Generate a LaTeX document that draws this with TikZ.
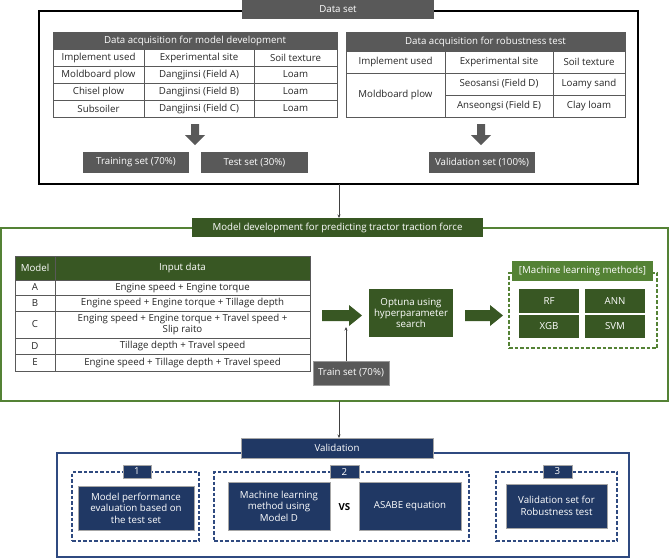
\documentclass[tikz,border=0pt]{standalone}
\usepackage{fontspec}
\setmainfont{Open Sans}
\usetikzlibrary{arrows.meta}
\definecolor{dgray}{HTML}{595959}
\definecolor{dgreen}{HTML}{385723}
\definecolor{lgreen}{HTML}{548235}
\definecolor{navy}{HTML}{203864}
\definecolor{bnavy}{HTML}{2F4A80}
\definecolor{tline}{HTML}{595959}
\definecolor{ttext}{HTML}{262626}
\newcommand\fs{\fontsize{9.7}{11.4}\selectfont}
\newcommand\bx[7][]{\node[base,#1, minimum width={(#5-#3)*1pt}, minimum height={(#6-#4)*1pt}] (#2) at ({(#3+#5)/2},{(#4+#6)/2}) {#7};}
\newcommand\rblock[4]{\fill[#4] (#1,{#3-5.5}) -- ({#2-13},{#3-5.5}) -- ({#2-13},{#3-10.5}) -- (#2,#3) -- ({#2-13},{#3+10.5}) -- ({#2-13},{#3+5.5}) -- (#1,{#3+5.5}) -- cycle;}
\newcommand\dblock[4]{\fill[#4] ({#1-4},#2) -- ({#1-4},{#3-10}) -- ({#1-10},{#3-10}) -- (#1,#3) -- ({#1+10},{#3-10}) -- ({#1+4},{#3-10}) -- ({#1+4},#2) -- cycle;}
\tikzset{
  base/.style={inner sep=0pt, outer sep=0pt, align=center, font=\fs},
  cell/.style={draw=tline, line width=0.6pt, text=ttext},
  graybox/.style={fill=dgray, text=white},
  greenbox/.style={fill=dgreen, text=white},
  navybox/.style={fill=navy, text=white, draw=black!35, line width=0.5pt},
  dashframe/.style={dashed, dash pattern=on 3.5pt off 2pt, line width=1.1pt},
  conn/.style={draw=black!75, line width=0.7pt, -{Stealth[length=3.5pt,width=3pt]}},
}
\begin{document}
\begin{tikzpicture}[x=1pt, y=-1pt]
\useasboundingbox (0,0) rectangle (669,558);
% ---------------- Data set ----------------
\bx[draw=black, line width=1.3pt]{dsframe}{39}{11}{638}{184}{}
\bx[graybox]{dstitle}{242}{0}{434}{19}{Data set}
% left table
\bx[cell,graybox]{lh}{53}{32}{337}{49}{Data acquisition for model development}
\bx[cell]{l11}{53}{49}{144}{66}{Implement used}
\bx[cell]{l12}{144}{49}{254}{66}{Experimental site}
\bx[cell]{l13}{254}{49}{337}{66}{Soil texture}
\bx[cell]{l21}{53}{66}{144}{83}{Moldboard plow}
\bx[cell]{l22}{144}{66}{254}{83}{Dangjinsi (Field A)}
\bx[cell]{l23}{254}{66}{337}{83}{Loam}
\bx[cell]{l31}{53}{83}{144}{100}{Chisel plow}
\bx[cell]{l32}{144}{83}{254}{100}{Dangjinsi (Field B)}
\bx[cell]{l33}{254}{83}{337}{100}{Loam}
\bx[cell]{l41}{53}{100}{144}{117}{Subsoiler}
\bx[cell]{l42}{144}{100}{254}{117}{Dangjinsi (Field C)}
\bx[cell]{l43}{254}{100}{337}{117}{Loam}
% right table
\bx[cell,graybox]{rh}{346}{32}{625}{51}{Data acquisition for robustness test}
\bx[cell]{r11}{346}{51}{445}{73}{Implement used}
\bx[cell]{r12}{445}{51}{553}{73}{Experimental site}
\bx[cell]{r13}{553}{51}{625}{73}{Soil texture}
\bx[cell]{r21}{346}{73}{445}{117}{Moldboard plow}
\bx[cell]{r22}{445}{73}{553}{95}{Seosansi (Field D)}
\bx[cell]{r23}{553}{73}{625}{95}{Loamy sand}
\bx[cell]{r32}{445}{95}{553}{117}{Anseongsi (Field E)}
\bx[cell]{r33}{553}{95}{625}{117}{Clay loam}
\dblock{195}{124}{145}{dgray}
\dblock{481}{124}{145}{dgray}
\bx[graybox]{train}{83}{152}{189}{173}{Training set (70\%)}
\bx[graybox]{test}{201}{152}{308}{173}{Test set (30\%)}
\bx[graybox]{valset}{429}{152}{535}{173}{Validation set (100\%)}
% ---------------- Model development ----------------
\bx[draw=lgreen, line width=1.5pt]{gframe}{1}{228}{668}{401}{}
\bx[greenbox]{mtitle}{192}{218}{483}{237}{Model development for predicting tractor traction force}
\coordinate (cx) at (339,0);
\draw[conn] (cx |- dsframe.south) -- (cx |- mtitle.north);
% model table
\bx[cell,greenbox]{mh1}{15}{256}{55}{280}{Model}
\bx[cell,greenbox]{mh2}{55}{256}{310}{280}{Input data}
\bx[cell]{ma1}{15}{280}{55}{295}{A}
\bx[cell]{ma2}{55}{280}{310}{295}{Engine speed + Engine torque}
\bx[cell]{mb1}{15}{295}{55}{311}{B}
\bx[cell]{mb2}{55}{295}{310}{311}{Engine speed + Engine torque + Tillage depth}
\bx[cell]{mc1}{15}{311}{55}{338}{C}
\bx[cell]{mc2}{55}{311}{310}{338}{Enging speed + Engine torque + Travel speed +\\Slip raito}
\bx[cell]{md1}{15}{338}{55}{354}{D}
\bx[cell]{md2}{55}{338}{310}{354}{Tillage depth + Travel speed}
\bx[cell]{me1}{15}{354}{55}{371}{E}
\bx[cell]{me2}{55}{354}{310}{371}{Engine speed + Tillage depth + Travel speed}
\rblock{322}{362}{315.5}{dgreen}
\bx[greenbox]{optuna}{369}{289}{453}{337}{Optuna using\\hyperparameter\\search}
\rblock{465}{503}{315.5}{dgreen}
\bx[draw=lgreen, dashframe]{mlframe}{509}{273}{657}{348}{}
\bx[fill=lgreen, text=white]{mltitle}{512}{261}{653}{281}{[Machine learning methods]}
\bx[greenbox]{rf}{519}{289}{579}{313}{RF}
\bx[greenbox]{ann}{585}{289}{645}{313}{ANN}
\bx[greenbox]{xgb}{519}{315}{579}{338}{XGB}
\bx[greenbox]{svm}{585}{315}{645}{338}{SVM}
\bx[graybox, draw=black!40, line width=0.5pt]{trainset}{313}{361}{389}{385}{Train set (70\%)}
\coordinate (a1bot) at (346,327);
\draw[conn] (a1bot |- trainset.north) -- (a1bot);
% ---------------- Validation ----------------
\bx[draw=bnavy, line width=1.5pt]{bframe}{57}{453}{629}{557}{}
\bx[navybox]{vtitle}{241}{438}{433}{458}{Validation}
\draw[conn] (cx |- gframe.south) -- (cx |- vtitle.north);
\bx[draw=bnavy, dashframe]{d1}{72}{472}{199}{541}{}
\bx[draw=bnavy, dashframe]{d2}{214}{472}{469}{541}{}
\bx[draw=bnavy, dashframe]{d3}{496}{472}{617}{541}{}
\bx[navybox]{t1}{123}{465}{151}{478}{1}
\bx[navybox]{t2}{330}{465}{359}{478}{2}
\bx[navybox]{t3}{543}{465}{572}{478}{3}
\bx[navybox]{v1}{78}{486}{194}{530}{Model performance\\evaluation based on\\the test set}
\bx[navybox]{v2}{228}{482}{330}{530}{Machine learning\\method using\\Model D}
\bx[navybox]{v3}{359}{482}{461}{530}{ASABE equation}
\node[base, font=\fs\bfseries] (vs) at (344.5,507) {VS};
\bx[navybox]{v4}{506}{484}{607}{528}{Validation set for\\Robustness test}
\end{tikzpicture}
\end{document}
